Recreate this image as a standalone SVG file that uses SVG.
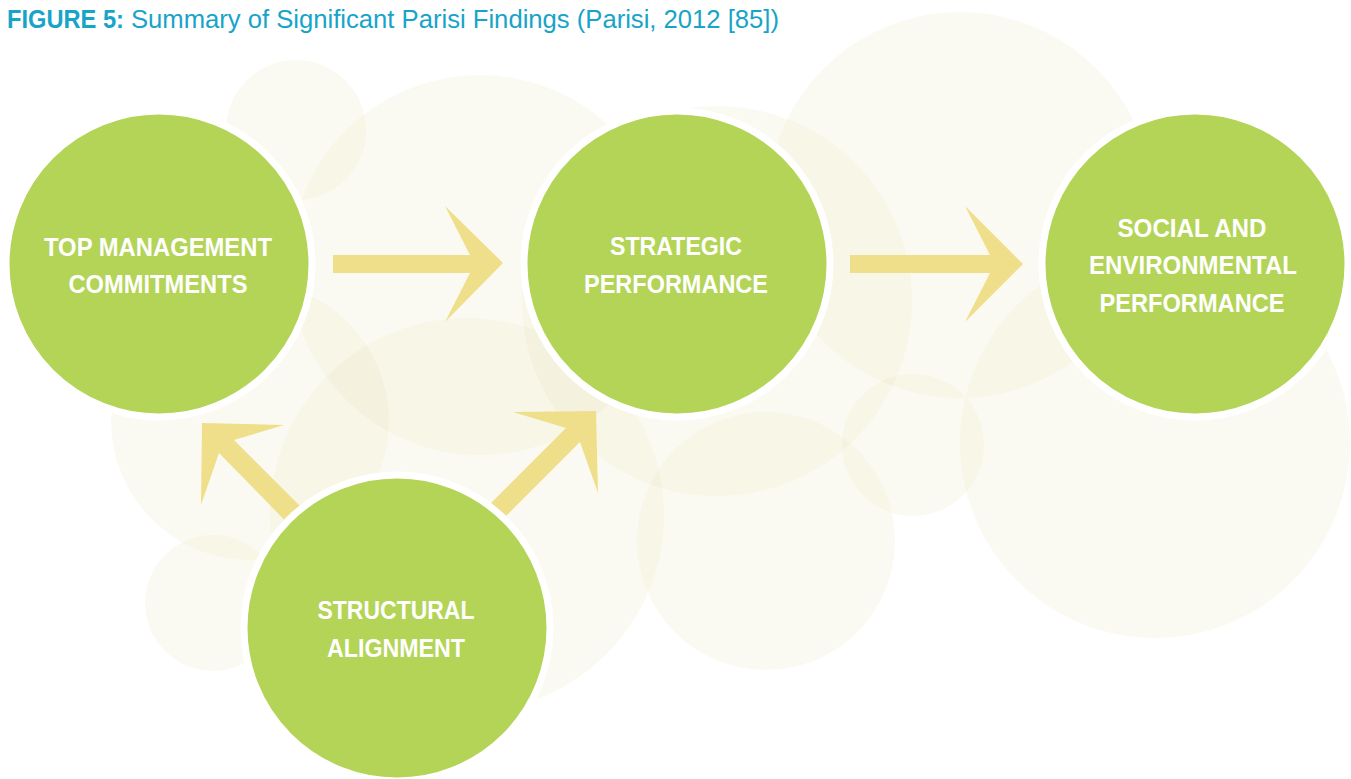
<svg xmlns="http://www.w3.org/2000/svg" width="1351" height="779" viewBox="0 0 1351 779">
  <style>
    .bg { fill: #ebe6be; fill-opacity: 0.2; }
    .arrow { fill: #efdf8b; }
    .node { fill: #b3d456; stroke: #ffffff; stroke-width: 7; }
    .label { font-family: "Liberation Sans", Arial, sans-serif; font-weight: bold; font-size: 25px; fill: #ffffff; text-anchor: middle; }
    .title { font-family: "Liberation Sans", Arial, sans-serif; font-size: 25px; fill: #17a4c8; }
  </style>
  <rect width="1351" height="779" fill="#ffffff"/>

  <g id="title">
    <text class="title" x="7" y="28"><tspan font-weight="bold" textLength="117" lengthAdjust="spacingAndGlyphs">FIGURE 5:</tspan></text>
    <text class="title" x="131" y="28" textLength="648" lengthAdjust="spacingAndGlyphs">Summary of Significant Parisi Findings (Parisi, 2012 [85])</text>
  </g>

  <g id="background">
    <circle class="bg" cx="296" cy="130" r="70"/>
    <circle class="bg" cx="480" cy="265" r="190"/>
    <circle class="bg" cx="717" cy="301" r="195"/>
    <circle class="bg" cx="960" cy="205" r="193"/>
    <circle class="bg" cx="250" cy="421" r="139"/>
    <circle class="bg" cx="467" cy="515" r="197"/>
    <circle class="bg" cx="213" cy="603" r="68"/>
    <circle class="bg" cx="766" cy="541" r="129"/>
    <circle class="bg" cx="913" cy="445" r="71"/>
    <circle class="bg" cx="1155" cy="443" r="195"/>
  </g>

  <g id="connectors">
    <polygon class="arrow" points="333,255 470,255 445,206 503,263 445,322 470,273 333,273"/>
    <polygon class="arrow" points="850,255 990,255 965,206 1023,264 965,322 990,273 850,273"/>
    <polygon class="arrow" points="324,530 234,440 284,425 202,423 201,505 219,453 309,545"/>
    <polygon class="arrow" points="472,522 566,428 513,412 596,411 598,493 580,442 486,536"/>
  </g>

  <g id="node-top-management">
    <circle class="node" cx="159" cy="264" r="153"/>
    <text class="label" x="158" y="256" textLength="228" lengthAdjust="spacingAndGlyphs">TOP MANAGEMENT</text>
    <text class="label" x="158" y="293" textLength="179" lengthAdjust="spacingAndGlyphs">COMMITMENTS</text>
  </g>

  <g id="node-strategic">
    <circle class="node" cx="677" cy="264" r="153"/>
    <text class="label" x="676" y="255" textLength="132" lengthAdjust="spacingAndGlyphs">STRATEGIC</text>
    <text class="label" x="676" y="293" textLength="184" lengthAdjust="spacingAndGlyphs">PERFORMANCE</text>
  </g>

  <g id="node-social">
    <circle class="node" cx="1195" cy="264" r="153"/>
    <text class="label" x="1192" y="237" textLength="149" lengthAdjust="spacingAndGlyphs">SOCIAL AND</text>
    <text class="label" x="1193" y="274" textLength="208" lengthAdjust="spacingAndGlyphs">ENVIRONMENTAL</text>
    <text class="label" x="1192" y="312" textLength="185" lengthAdjust="spacingAndGlyphs">PERFORMANCE</text>
  </g>

  <g id="node-structural">
    <circle class="node" cx="397" cy="628" r="153"/>
    <text class="label" x="396" y="619" textLength="157" lengthAdjust="spacingAndGlyphs">STRUCTURAL</text>
    <text class="label" x="396" y="657" textLength="138" lengthAdjust="spacingAndGlyphs">ALIGNMENT</text>
  </g>
</svg>
